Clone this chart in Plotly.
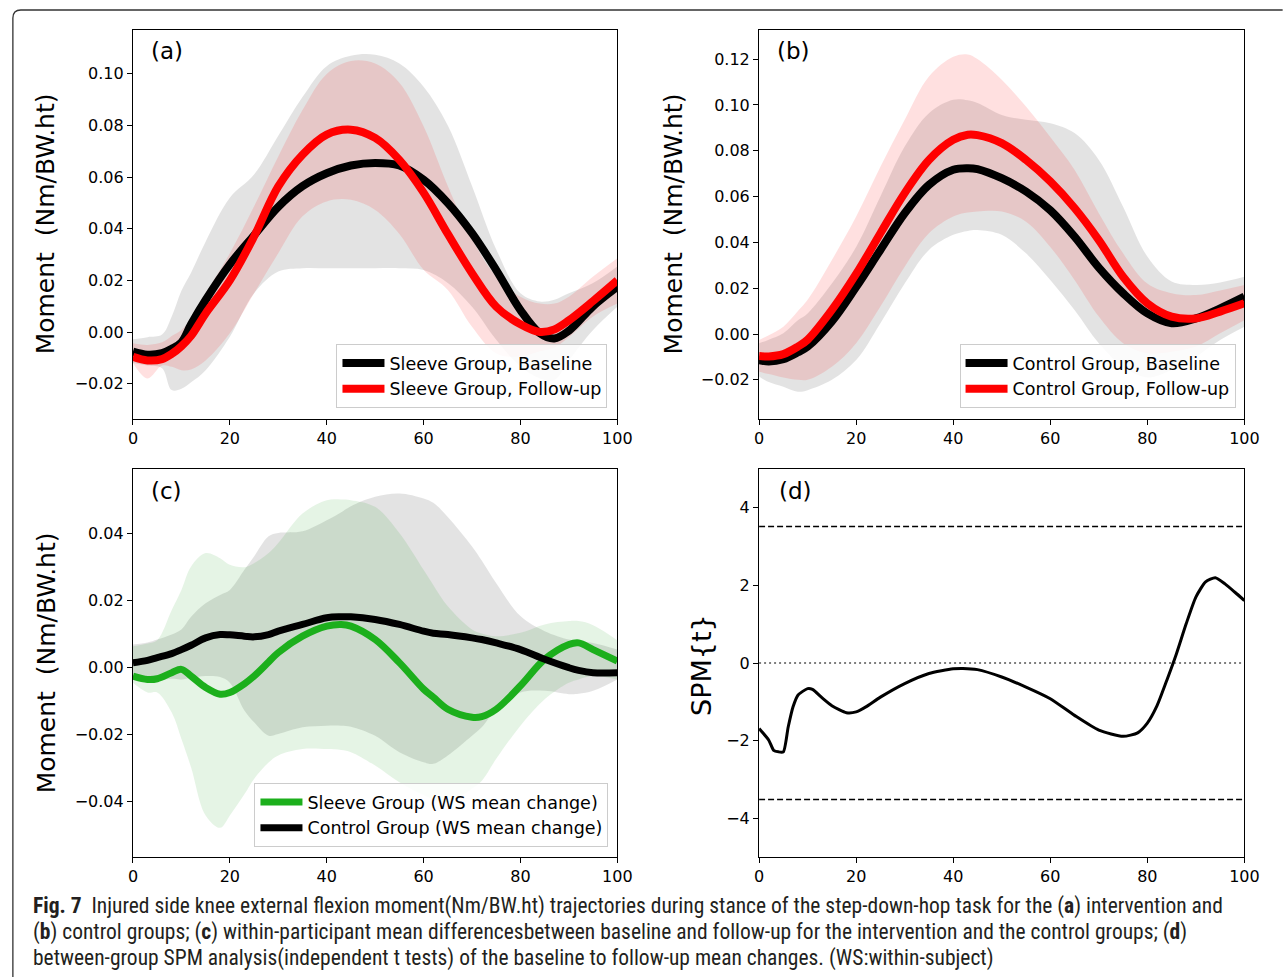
import plotly.graph_objects as go

W, H = 1285, 977

# ---------------- data ----------------
# Panel (a): Sleeve group
XA = [0, 3, 6, 8, 10, 12, 15, 20, 25, 30, 35, 40, 45, 50, 55, 60, 65, 70, 75, 80, 84, 87, 90, 95, 100]
A_base = [-0.0076, -0.0088, -0.0082, -0.0065, -0.0040, 0.0030, 0.0124, 0.0262, 0.0375, 0.0485, 0.0565, 0.0615,
          0.0645, 0.0655, 0.0645, 0.0590, 0.0500, 0.0383, 0.0240, 0.0085, -0.0005, -0.0025, 0.0005, 0.0100, 0.0175]
A_follow = [-0.0096, -0.0110, -0.0105, -0.0085, -0.0055, -0.0015, 0.0072, 0.0200, 0.0370, 0.0564, 0.0687, 0.0765,
            0.0784, 0.0752, 0.0667, 0.0540, 0.0380, 0.0228, 0.0098, 0.0030, 0.0000, 0.0010, 0.0045, 0.0120, 0.0200]
A_base_hi = [-0.0028, -0.0020, -0.0010, 0.0060, 0.0160, 0.0230, 0.0350, 0.0520, 0.0610, 0.0760, 0.0910, 0.1030,
             0.1070, 0.1074, 0.1040, 0.0950, 0.0800, 0.0566, 0.0320, 0.0150, 0.0118, 0.0125, 0.0150, 0.0190, 0.0254]
A_base_lo = [-0.0120, -0.0130, -0.0140, -0.0225, -0.0220, -0.0195, -0.0148, -0.0018, 0.0150, 0.0234, 0.0247, 0.0247,
             0.0247, 0.0247, 0.0247, 0.0240, 0.0190, 0.0098, -0.0030, -0.0134, -0.0180, -0.0186, -0.0110, 0.0008, 0.0098]
A_fol_hi = [-0.0044, -0.0050, -0.0040, -0.0015, 0.0008, 0.0050, 0.0150, 0.0305, 0.0487, 0.0680, 0.0860, 0.1000,
            0.1050, 0.1040, 0.0966, 0.0797, 0.0566, 0.0360, 0.0215, 0.0137, 0.0110, 0.0110, 0.0137, 0.0215, 0.0286]
A_fol_lo = [-0.0120, -0.0180, -0.0130, -0.0135, -0.0148, -0.0145, -0.0110, -0.0005, 0.0150, 0.0305, 0.0448, 0.0506,
            0.0512, 0.0473, 0.0380, 0.0241, 0.0163, 0.0020, -0.0083, -0.0095, -0.0075, -0.0060, -0.0020, 0.0060, 0.0110]

# Panel (b): Control group
XB = [0, 2, 5, 8, 10, 15, 20, 25, 30, 35, 40, 43, 45, 50, 55, 60, 65, 70, 75, 80, 85, 90, 95, 100]
B_base = [-0.0114, -0.0120, -0.0110, -0.0080, -0.0055, 0.0055, 0.0205, 0.0367, 0.0527, 0.0651, 0.0717, 0.0724,
          0.0720, 0.0680, 0.0622, 0.0540, 0.0425, 0.0290, 0.0178, 0.0090, 0.0047, 0.0068, 0.0112, 0.0163]
B_follow = [-0.0096, -0.0098, -0.0088, -0.0055, -0.0025, 0.0105, 0.0262, 0.0440, 0.0615, 0.0760, 0.0848, 0.0870,
            0.0868, 0.0833, 0.0760, 0.0666, 0.0550, 0.0410, 0.0250, 0.0134, 0.0076, 0.0068, 0.0098, 0.0134]
B_base_hi = [-0.0040, -0.0025, 0.0003, 0.0060, 0.0090, 0.0220, 0.0380, 0.0600, 0.0818, 0.0964, 0.1022, 0.1020,
             0.1008, 0.0956, 0.0935, 0.0920, 0.0877, 0.0760, 0.0556, 0.0338, 0.0229, 0.0214, 0.0225, 0.0250]
B_base_lo = [-0.0186, -0.0210, -0.0230, -0.0252, -0.0245, -0.0200, -0.0114, 0.0047, 0.0220, 0.0367, 0.0433, 0.0450,
             0.0454, 0.0433, 0.0352, 0.0236, 0.0105, -0.0040, -0.0143, -0.0190, -0.0157, -0.0099, -0.0026, 0.0032]
B_fol_hi = [-0.0026, -0.0005, 0.0032, 0.0100, 0.0149, 0.0323, 0.0513, 0.0730, 0.0935, 0.1124, 0.1210, 0.1220,
            0.1200, 0.1110, 0.0993, 0.0860, 0.0717, 0.0527, 0.0352, 0.0220, 0.0178, 0.0170, 0.0190, 0.0214]
B_fol_lo = [-0.0165, -0.0175, -0.0190, -0.0200, -0.0200, -0.0143, -0.0040, 0.0120, 0.0294, 0.0440, 0.0513, 0.0530,
            0.0535, 0.0535, 0.0490, 0.0380, 0.0236, 0.0076, -0.0040, -0.0084, -0.0077, -0.0055, 0.0003, 0.0060]

# Panel (c): within-subject mean changes
XC = [0, 3, 5, 8, 10, 12, 15, 18, 20, 23, 25, 28, 30, 35, 40, 43, 45, 50, 55, 60, 62, 65, 70, 72, 75, 80, 85, 90, 92, 95, 100]
C_sleeve = [-0.0027, -0.0037, -0.0035, -0.0017, -0.0007, -0.0027, -0.0061, -0.0081, -0.0076, -0.0050, -0.0027,
            0.0015, 0.0043, 0.0092, 0.0122, 0.0127, 0.0122, 0.0082, 0.0013, -0.0066, -0.0090, -0.0126, -0.0150,
            -0.0148, -0.0126, -0.0056, 0.0023, 0.0067, 0.0072, 0.0052, 0.0018]
C_control = [0.0013, 0.0020, 0.0028, 0.0040, 0.0052, 0.0065, 0.0087, 0.0097, 0.0096, 0.0092, 0.0090, 0.0097,
             0.0107, 0.0127, 0.0147, 0.0150, 0.0150, 0.0142, 0.0127, 0.0107, 0.0101, 0.0097, 0.0087, 0.0082,
             0.0072, 0.0052, 0.0023, -0.0002, -0.0010, -0.0017, -0.0017]
C_sleeve_hi = [0.0062, 0.0070, 0.0080, 0.0170, 0.0230, 0.0300, 0.0340, 0.0325, 0.0305, 0.0298, 0.0310, 0.0340,
               0.0370, 0.0458, 0.0498, 0.0500, 0.0498, 0.0478, 0.0400, 0.0290, 0.0245, 0.0181, 0.0112, 0.0100,
               0.0092, 0.0102, 0.0127, 0.0137, 0.0137, 0.0125, 0.0080]
C_sleeve_lo = [-0.0047, -0.0076, -0.0076, -0.0136, -0.0215, -0.0300, -0.0443, -0.0480, -0.0443, -0.0380, -0.0334,
               -0.0285, -0.0264, -0.0245, -0.0245, -0.0248, -0.0254, -0.0294, -0.0344, -0.0383, -0.0395, -0.0403,
               -0.0363, -0.0340, -0.0274, -0.0175, -0.0096, -0.0047, -0.0037, -0.0027, -0.0037]
C_control_hi = [0.0067, 0.0073, 0.0082, 0.0097, 0.0112, 0.0150, 0.0190, 0.0215, 0.0230, 0.0290, 0.0330, 0.0390,
                0.0400, 0.0405, 0.0438, 0.0462, 0.0480, 0.0508, 0.0518, 0.0503, 0.0490, 0.0448, 0.0360, 0.0318,
                0.0250, 0.0152, 0.0107, 0.0082, 0.0077, 0.0072, 0.0052]
C_control_lo = [-0.0037, -0.0040, -0.0040, -0.0035, -0.0037, -0.0032, -0.0027, -0.0030, -0.0047, -0.0130, -0.0165,
                -0.0205, -0.0200, -0.0180, -0.0175, -0.0175, -0.0178, -0.0205, -0.0254, -0.0284, -0.0289, -0.0264,
                -0.0205, -0.0180, -0.0126, -0.0076, -0.0071, -0.0081, -0.0080, -0.0071, -0.0037]

# Panel (d): SPM{t}
XD = [0, 2, 3, 4, 5, 6, 7, 8, 10, 11, 13, 15, 18, 20, 22, 25, 30, 35, 40, 42, 45, 50, 55, 60, 65, 70, 75, 78, 80,
      82, 84, 86, 88, 90, 92, 94, 96, 98, 100]
D_spm = [-1.69, -1.99, -2.25, -2.29, -2.29, -1.65, -1.13, -0.83, -0.66, -0.68, -0.90, -1.10, -1.28, -1.26, -1.13,
         -0.88, -0.53, -0.27, -0.15, -0.14, -0.17, -0.36, -0.62, -0.92, -1.35, -1.73, -1.89, -1.80, -1.55, -1.10,
         -0.45, 0.24, 1.01, 1.70, 2.09, 2.20, 2.04, 1.83, 1.61]
D_thresh = 3.52
X_EDGES = [0, 100]

X_TICKS = [0, 20, 40, 60, 80, 100]
D_TICKS = [-4, -2, 0, 2, 4]

LEG_A = ["Sleeve Group, Baseline", "Sleeve Group, Follow-up"]
LEG_B = ["Control Group, Baseline", "Control Group, Follow-up"]
LEG_C = ["Sleeve Group (WS mean change)", "Control Group (WS mean change)"]
Y_TITLE = "Moment\u00a0 (Nm/BW.ht)"
D_TITLE = "SPM{t}"

# ---------------- styles ----------------
FONT = "DejaVu Sans"
GREY_FILL = "rgba(128,128,128,0.22)"
RED_FILL = "rgba(255,0,0,0.12)"
GREEN_FILL = "rgba(0,150,0,0.10)"
GREEN = "#1caf1c"

def px_x(p):
    return p / W

def px_y(p):
    return 1 - p / H

fig = go.Figure()

def band(x, hi, lo, color, xa, ya):
    fig.add_trace(go.Scatter(x=x, y=hi, mode="lines", line=dict(width=0, shape="spline", smoothing=1.0),
                             showlegend=False, hoverinfo="skip", xaxis=xa, yaxis=ya))
    fig.add_trace(go.Scatter(x=x, y=lo, mode="lines", line=dict(width=0, shape="spline", smoothing=1.0),
                             fill="tonexty", fillcolor=color, showlegend=False, hoverinfo="skip",
                             xaxis=xa, yaxis=ya))

def mean_line(x, y, color, name, width, xa, ya, legend):
    fig.add_trace(go.Scatter(x=x, y=y, mode="lines", name=name,
                             line=dict(color=color, width=width, shape="spline", smoothing=1.0),
                             xaxis=xa, yaxis=ya, legend=legend))

# (a)
band(XA, A_base_hi, A_base_lo, GREY_FILL, "x", "y")
band(XA, A_fol_hi, A_fol_lo, RED_FILL, "x", "y")
mean_line(XA, A_base, "black", LEG_A[0], 8, "x", "y", "legend")
mean_line(XA, A_follow, "#ff0000", LEG_A[1], 8, "x", "y", "legend")

# (b)
band(XB, B_base_hi, B_base_lo, GREY_FILL, "x2", "y2")
band(XB, B_fol_hi, B_fol_lo, RED_FILL, "x2", "y2")
mean_line(XB, B_base, "black", LEG_B[0], 8, "x2", "y2", "legend2")
mean_line(XB, B_follow, "#ff0000", LEG_B[1], 8, "x2", "y2", "legend2")

# (c)
band(XC, C_control_hi, C_control_lo, GREY_FILL, "x3", "y3")
band(XC, C_sleeve_hi, C_sleeve_lo, GREEN_FILL, "x3", "y3")
mean_line(XC, C_sleeve, GREEN, LEG_C[0], 7, "x3", "y3", "legend3")
mean_line(XC, C_control, "black", LEG_C[1], 7, "x3", "y3", "legend3")

# (d)
fig.add_trace(go.Scatter(x=X_EDGES, y=[D_thresh, D_thresh], mode="lines",
                         line=dict(color="black", width=1.5, dash="6px,3px"), showlegend=False,
                         xaxis="x4", yaxis="y4"))
fig.add_trace(go.Scatter(x=X_EDGES, y=[-D_thresh, -D_thresh], mode="lines",
                         line=dict(color="black", width=1.5, dash="6px,3px"), showlegend=False,
                         xaxis="x4", yaxis="y4"))
fig.add_trace(go.Scatter(x=X_EDGES, y=[0, 0], mode="lines",
                         line=dict(color="black", width=1.2, dash="2px,3px"), showlegend=False,
                         xaxis="x4", yaxis="y4"))
fig.add_trace(go.Scatter(x=XD, y=D_spm, mode="lines",
                         line=dict(color="black", width=3, shape="spline", smoothing=0.6), showlegend=False,
                         xaxis="x4", yaxis="y4"))

# ---------------- layout ----------------
XL = [px_x(130), px_x(622)]
XR = [px_x(766), px_x(1259)]
YT = [px_y(419), px_y(30)]
YB = [px_y(857), px_y(469)]

tickfont = dict(family=FONT, size=16, color="black")
axcommon = dict(showline=True, mirror=True, linecolor="black", linewidth=1.2, ticks="outside",
                ticklen=5, tickwidth=1.2, tickcolor="black", showgrid=False, zeroline=False,
                tickfont=tickfont)

def xax(domain, anchor):
    return dict(domain=domain, anchor=anchor, range=[0, 100], tickvals=X_TICKS, **axcommon)

layout = dict(
    width=W, height=H, autosize=False, margin=dict(l=0, r=0, t=0, b=0, pad=0),
    paper_bgcolor="white", plot_bgcolor="white",
    font=dict(family=FONT, color="black"),
    xaxis=xax(XL, "y"),
    yaxis=dict(domain=YT, anchor="x", range=[-0.0337, 0.117], dtick=0.02, tick0=0, tickformat=".2f", **axcommon),
    xaxis2=xax(XR, "y2"),
    yaxis2=dict(domain=YT, anchor="x2", range=[-0.0371, 0.1327], dtick=0.02, tick0=0, tickformat=".2f", **axcommon),
    xaxis3=xax(XL, "y3"),
    yaxis3=dict(domain=YB, anchor="x3", range=[-0.0567, 0.0591], dtick=0.02, tick0=0, tickformat=".2f", **axcommon),
    xaxis4=xax(XR, "y4"),
    yaxis4=dict(domain=YB, anchor="x4", range=[-5, 5], tickvals=D_TICKS, **axcommon),
)

legstyle = dict(bgcolor="rgba(255,255,255,0.85)", bordercolor="#cccccc", borderwidth=1,
                font=dict(family=FONT, size=17.5, color="black"), xanchor="right", yanchor="bottom",
                tracegroupgap=0, traceorder="normal", itemwidth=42)
layout["legend"] = dict(x=px_x(612), y=px_y(408), **legstyle)
layout["legend2"] = dict(x=px_x(1250), y=px_y(408), **legstyle)
layout["legend3"] = dict(x=px_x(613), y=px_y(847), **legstyle)

fig.update_layout(**layout)

annos = []
for lab, x, y in [("(a)", 146, 51), ("(b)", 782, 51), ("(c)", 146, 491), ("(d)", 784, 491)]:
    annos.append(dict(text=lab, x=px_x(x), y=px_y(y), xref="paper", yref="paper", xanchor="left",
                      yanchor="middle", showarrow=False, font=dict(family=FONT, size=23, color="black")))
for txt, x, y, fs in [(Y_TITLE, 42, 224, 25), (Y_TITLE, 680, 224, 25), (Y_TITLE, 42, 663, 25),
                      (D_TITLE, 707, 665, 27)]:
    annos.append(dict(text=txt, x=px_x(x), y=px_y(y), xref="paper", yref="paper", xanchor="center",
                      yanchor="middle", textangle=-90, showarrow=False,
                      font=dict(family=FONT, size=fs, color="black")))

CAP_FONT = "Liberation Sans Narrow, Roboto Condensed, Arial Narrow, Liberation Sans, sans-serif"
caption = [
    "<b>Fig. 7</b>  Injured side knee external flexion moment(Nm/BW.ht) trajectories during stance of the "
    "step-down-hop task for the (<b>a</b>) intervention and",
    "(<b>b</b>) control groups; (<b>c</b>) within-participant mean differencesbetween baseline and follow-up "
    "for the intervention and the control groups; (<b>d</b>)",
    "between-group SPM analysis(independent t tests) of the baseline to follow-up mean changes. (WS:within-subject)",
]
for txt, y in zip(caption, [906, 932, 958]):
    annos.append(dict(text=txt, x=px_x(26), y=px_y(y), xref="paper", yref="paper", xanchor="left",
                      yanchor="middle", showarrow=False, font=dict(family=CAP_FONT, size=21.5, color="#231f20")))
fig.update_layout(annotations=annos)

# rounded border around the figure
x0, y0, r = px_x(8), px_y(10), 8
fig.add_shape(type="path", xref="paper", yref="paper",
              path=f"M 1.01 {y0} L {px_x(8 + r)} {y0} Q {x0} {y0} {x0} {px_y(10 + r)} L {x0} -0.01",
              line=dict(color="#333333", width=1.3))

fig.write_html("out.html", config={"responsive": False, "displayModeBar": False},
               post_script="document.body.style.margin='0';document.body.style.overflow='hidden';")
